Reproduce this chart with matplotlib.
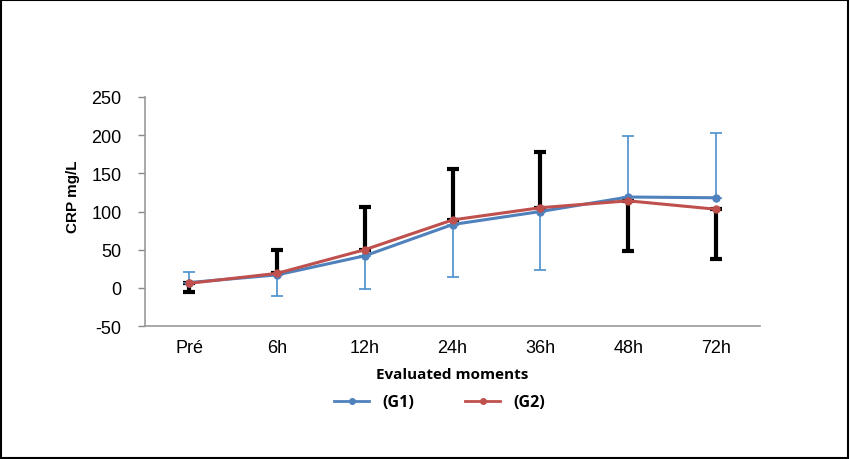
import matplotlib
matplotlib.use('Agg')
import matplotlib.pyplot as plt
import numpy as np

plt.rcParams['font.family'] = ['Liberation Sans', 'DejaVu Sans']
plt.rcParams['axes.unicode_minus'] = False

moments = ['Pré', '6h', '12h', '24h', '36h', '48h', '72h']
g1_mean = [7, 17, 42, 83, 100, 119, 118]
g2_mean = [6, 19, 50, 89, 105, 114, 103]
# error bars are drawn one-sided in the original
g1_err_low = [0, 28, 43, 69, 77, 0, 0]
g1_err_high = [14, 0, 0, 0, 0, 80, 85]
g2_err_low = [11, 0, 0, 0, 0, 66, 65]
g2_err_high = [0, 31, 56, 67, 73, 0, 0]

blue = '#4F81BD'
red = '#C0504D'

fig = plt.figure(figsize=(8.5, 4.6), dpi=100)
ax = fig.add_axes([0.171, 0.289, 0.723, 0.498])
x = np.arange(len(moments))

ax.errorbar(x, g2_mean, yerr=[g2_err_low, g2_err_high], fmt='none',
            ecolor='black', elinewidth=3, capsize=4, capthick=3, zorder=2)
ax.errorbar(x, g1_mean, yerr=[g1_err_low, g1_err_high], fmt='none',
            ecolor='#4A8FCB', elinewidth=1.2, capsize=4, capthick=1.2, zorder=2)
ax.plot(x, g1_mean, color=blue, lw=2.2, marker='o', ms=5, label='(G1)', zorder=3)
ax.plot(x, g2_mean, color=red, lw=2.2, marker='o', ms=5, label='(G2)', zorder=4)

ax.set_xlim(-0.5, 6.5)
ax.set_ylim(-50, 250)
ax.set_yticks(range(-50, 251, 50))
ax.set_xticks(x)
ax.set_xticklabels(moments)
ax.tick_params(axis='x', length=0, labelsize=13, pad=9)
ax.tick_params(axis='y', length=5, color='#888888', labelsize=13, width=1, pad=12)
for s in ['top', 'right']:
    ax.spines[s].set_visible(False)
for s in ['left', 'bottom']:
    ax.spines[s].set_color('#999999')
    ax.spines[s].set_linewidth(1.2)

ax.set_ylabel('CRP mg/L', fontsize=11, fontweight='bold')
ax.yaxis.set_label_coords(-0.106, 0.57)
ax.set_xlabel('Evaluated moments', fontsize=11, fontweight='bold', labelpad=8,
              family=['Open Sans', 'DejaVu Sans'])

leg = fig.legend(loc='center', bbox_to_anchor=(0.517, 0.123), ncol=2, frameon=False,
                 handlelength=2.2, handletextpad=0.8, columnspacing=3.2,
                 prop={'weight': 'bold', 'size': 11.5, 'family': 'Open Sans'})
for line in leg.get_lines():
    line.set_markersize(4)
    line.set_linewidth(2)

# outer frame of the picture
fig.patches.append(plt.Rectangle((0.001, 0.002), 0.997, 0.996, transform=fig.transFigure,
                                 fill=False, edgecolor='black', lw=1.5))

plt.savefig('out.png')
